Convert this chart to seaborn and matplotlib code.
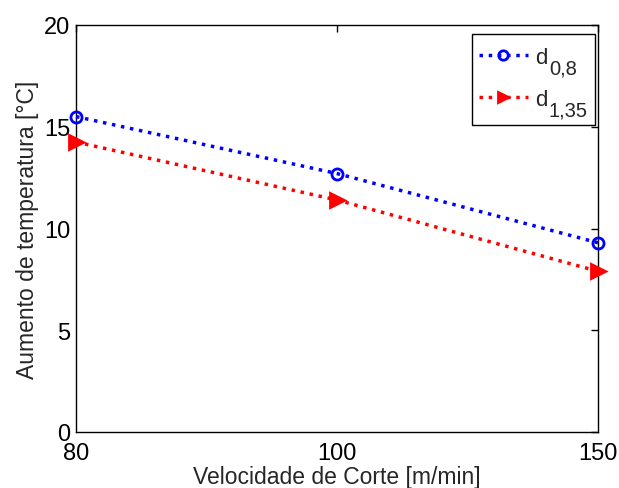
import matplotlib
matplotlib.use("Agg")
import matplotlib.pyplot as plt
from matplotlib.patches import Rectangle
from matplotlib.transforms import IdentityTransform
import seaborn as sns
import pandas as pd

# Cutting speed levels and temperature rise for the two depths of cut
velocidades = ["80", "100", "150"]
temp_d08 = [15.5, 12.7, 9.3]
temp_d135 = [14.25, 11.4, 7.9]
series_names = ["d_0,8", "d_1,35"]
series_base = ["d", "d"]
series_sub = ["0,8", "1,35"]
y_ticks = [0, 5, 10, 15, 20]

sns.set_style("white")
plt.rcParams["font.family"] = ["Liberation Sans", "DejaVu Sans"]

df = pd.DataFrame({
    "vel": velocidades * 2,
    "temp": temp_d08 + temp_d135,
    "serie": [series_names[0]] * 3 + [series_names[1]] * 3,
})

fig = plt.figure(figsize=(6.19, 4.89), dpi=100)
ax = fig.add_axes([76 / 619, 1 - 433 / 489, (598 - 76) / 619, (433 - 26) / 489])

sns.pointplot(
    data=df, x="vel", y="temp", hue="serie", order=velocidades,
    palette=["#0000ff", "#ff0000"], markers=["o", ">"], linestyles=[":", ":"],
    ax=ax, errorbar=None,
)

# open circles for the first series, filled triangles for the second
faces = ["none", "#ff0000"]
for line, face, ms in zip(ax.lines[:2], faces, [8, 10]):
    line.set_linewidth(2.5)
    line.set_markersize(ms)
    line.set_markerfacecolor(face)
    line.set_markeredgewidth(2)
    line.set_clip_on(False)
    line.set_zorder(3)

ax.set_xlim(0, len(velocidades) - 1)
ax.set_ylim(y_ticks[0], y_ticks[-1])
ax.set_yticks(y_ticks)
ax.set_xticks(range(len(velocidades)))
ax.set_xticklabels(velocidades)

for s in ax.spines.values():
    s.set_visible(True)
    s.set_color("black")
    s.set_linewidth(1)

ax.tick_params(direction="in", length=5, width=1, top=True, right=True,
               labelsize=17, colors="black")
ax.tick_params(axis="x", pad=7)
ax.tick_params(axis="y", pad=4)
ax.set_xlabel("Velocidade de Corte [m/min]", fontsize=16.5, labelpad=1)
ax.set_ylabel("Aumento de temperatura [°C]", fontsize=16.5, labelpad=4)

# legend: base letter from the legend, large subscripts set beside it,
# and a plain frame drawn around both
leg_fs = 16
sub_fs = 14.5
handles, _ = ax.get_legend_handles_labels()
for h, face in zip(handles, faces):
    h.set_linewidth(2.5)
    h.set_markerfacecolor(face)
    h.set_markeredgewidth(2)
leg = ax.legend(handles, series_base, loc="upper left", bbox_to_anchor=(0, 1),
                fontsize=leg_fs, frameon=False, handlelength=2.2,
                handletextpad=0.35, labelspacing=0.95, borderpad=0,
                borderaxespad=0)

subs = []
for txt, sub in zip(leg.get_texts(), series_sub):
    a = ax.annotate(sub, xy=(1, 0), xycoords=txt, xytext=(1, -5),
                    textcoords="offset pixels", fontsize=sub_fs,
                    va="baseline", ha="left", zorder=6)
    subs.append(a)

fig.canvas.draw()
renderer = fig.canvas.get_renderer()


def frame_extent():
    lb = leg.get_window_extent(renderer)
    sb = [a.get_window_extent(renderer) for a in subs]
    x0 = lb.x0 - 7
    x1 = max(b.x1 for b in sb) + 7
    y1 = lb.y1 + 13
    y0 = min(min(b.y0 for b in sb), lb.y0) - 6
    return lb, x0, y0, x1, y1


lb, x0, y0, x1, y1 = frame_extent()
ab = ax.get_window_extent(renderer)
dx = (ab.x1 - 3) - x1
dy = (ab.y1 - 9) - y1
leg.set_bbox_to_anchor((lb.x0 + dx, lb.y1 + dy), transform=IdentityTransform())

fig.canvas.draw()
lb, x0, y0, x1, y1 = frame_extent()
inv = fig.transFigure.inverted()
(fx0, fy0), (fx1, fy1) = inv.transform([(x0, y0), (x1, y1)])
ax.add_patch(Rectangle((fx0, fy0), fx1 - fx0, fy1 - fy0, transform=fig.transFigure,
                       facecolor="white", edgecolor="black", linewidth=1,
                       clip_on=False, zorder=4))

fig.savefig("out.png", dpi=100)
